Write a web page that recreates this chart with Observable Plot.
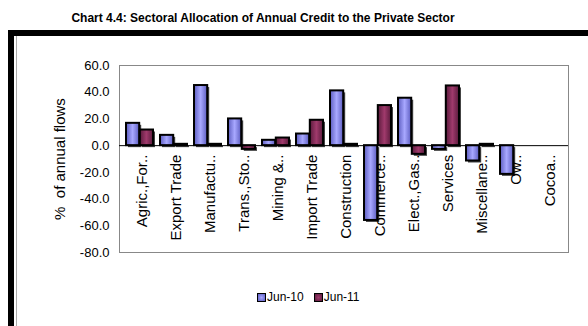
<!DOCTYPE html>
<html><head><meta charset="utf-8">
<script src="https://cdn.jsdelivr.net/npm/d3@7"></script>
<script src="https://cdn.jsdelivr.net/npm/@observablehq/plot@0.6"></script>
<style>
body{margin:0;width:588px;height:326px;position:relative;overflow:hidden;background:#fff;font-family:"Liberation Sans",Arial,sans-serif;}
#title{position:absolute;top:11px;left:0;width:526px;text-align:center;font:bold 12px "Liberation Sans",Arial,sans-serif;color:#000;white-space:nowrap;}
#frame{position:absolute;left:8px;top:30px;width:600px;height:320px;border-left:6px solid #000;border-top:6px solid #000;}
#inner{position:absolute;left:16px;top:36px;width:600px;height:320px;border-left:1.5px solid #aaa;}
#chart{position:absolute;left:0;top:40px;}
#legend{position:absolute;top:290px;left:257px;font:12px "Liberation Sans",Arial,sans-serif;display:flex;gap:10px;align-items:center;}
.item{display:flex;align-items:center;}
.sw{width:7px;height:7px;border:1.5px solid #000;margin-right:1px;}
</style></head>
<body>
<div id="title">Chart 4.4: Sectoral Allocation of Annual Credit to the Private Sector</div>
<div id="frame"></div>
<div id="inner"></div>
<div id="chart"></div>
<div id="legend"></div>
<script>
const categories = ["Agric.,For..","Export Trade","Manufactu..","Trans.,Sto..","Mining &..","Import Trade","Construction","Commerce..","Elect.,Gas..","Services","Miscellane..","Ow..","Cocoa.."];
const seriesNames = ["Jun-10","Jun-11"];
const jun10 = [16.7, 7.7, 45.0, 20.0, 4.0, 8.7, 41.0, -56.0, 35.5, -2.8, -11.5, -21.5, 0];
const jun11 = [11.7, 1.0, 1.0, -2.8, 5.7, 19.0, 1.0, 30.0, -6.5, 44.7, 1.0, 0, 0];
const yTicks = [-80,-60,-40,-20,0,20,40,60];
const yLabel = "%  of annual flows";

const rows10 = categories.map((c,i)=>({cat:c, series:seriesNames[0], v:jun10[i]}));
const rows11 = categories.map((c,i)=>({cat:c, series:seriesNames[1], v:jun11[i]}));

const font = '"Liberation Sans", Arial, sans-serif';
const half = 13.8;

const plot = Plot.plot({
  width: 588, height: 230,
  marginLeft: 119, marginRight: 20, marginTop: 25, marginBottom: 18,
  style: {fontFamily: font, background: "transparent", color: "#000", overflow: "visible"},
  x: {domain: categories, paddingInner: 0.2, paddingOuter: 0.1, axis: null},
  y: {domain: [-80, 60], axis: null},
  marks: [
    Plot.frame({stroke: "#888"}),
    Plot.axisY({ticks: yTicks, tickFormat: d => d.toFixed(1), tickSize: 0, tickPadding: 10, fontSize: 13, label: null}),
    Plot.text([yLabel], {frameAnchor: "left", dx: -59, rotate: -90, textAnchor: "middle", fontSize: 15, fill: "#000"}),
    Plot.barY(rows10, {x: "cat", y: "v", fill: "#444", dx: 2, dy: 2, insetRight: half}),
    Plot.barY(rows11, {x: "cat", y: "v", fill: "#444", dx: 2, dy: 2, insetLeft: half}),
    Plot.barY(rows10, {x: "cat", y: "v", fill: "url(#g10)", stroke: "#000", strokeWidth: 2, insetRight: half}),
    Plot.barY(rows11, {x: "cat", y: "v", fill: "url(#g11)", stroke: "#000", strokeWidth: 2, insetLeft: half}),
    Plot.ruleY([0], {stroke: "#000", strokeWidth: 1}),
    Plot.text(categories, {x: d => d, y: 0, text: d => d, rotate: -90, textAnchor: "end", dy: 9, dx: 2, fontSize: 15, fill: "#000"})
  ]
});

const defs = d3.select(plot).insert("defs", ":first-child");
function grad(id, edge, mid) {
  const g = defs.append("linearGradient").attr("id", id).attr("x1", "0").attr("x2", "1").attr("y1", "0").attr("y2", "0");
  g.append("stop").attr("offset", "0%").attr("stop-color", edge);
  g.append("stop").attr("offset", "50%").attr("stop-color", mid);
  g.append("stop").attr("offset", "100%").attr("stop-color", edge);
}
grad("g10", "#5c5cc0", "#a8a8ff");
grad("g11", "#5a1a3c", "#a03a6c");
document.getElementById("chart").appendChild(plot);

const legend = d3.select("#legend");
const swFill = ["radial-gradient(#a8a8ff,#5c5cc0)","radial-gradient(#a03a6c,#5a1a3c)"];
seriesNames.forEach((s,i)=>{
  const it = legend.append("div").attr("class","item");
  it.append("div").attr("class","sw").style("background", swFill[i]);
  it.append("span").text(s);
});
</script>
</body></html>
